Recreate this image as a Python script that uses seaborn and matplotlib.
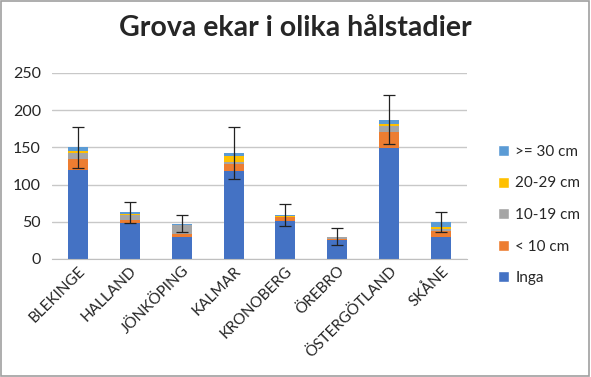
import numpy as np
import pandas as pd
import matplotlib.pyplot as plt
import seaborn as sns
from matplotlib.patches import Rectangle, Patch

# Data
lan = ["BLEKINGE", "HALLAND", "JÖNKÖPING", "KALMAR", "KRONOBERG", "ÖREBRO", "ÖSTERGÖTLAND", "SKÅNE"]
inga = [120, 49, 29.5, 118, 51, 25, 149, 29.5]
under10 = [15, 4, 4, 10, 5, 2.5, 22, 8]
d10_19 = [7, 6, 12, 3, 1, 1.5, 8, 3]
d20_29 = [3, 2, 0.5, 7, 1, 0.5, 2, 2]
over30 = [5, 2, 1.5, 4, 1, 0.5, 6, 7.5]
fel = [28, 14, 11, 35, 15, 11.5, 33, 13.5]

serier = ["Inga", "< 10 cm", "10-19 cm", "20-29 cm", ">= 30 cm"]
farger = ["#4472C4", "#ED7D31", "#A5A5A5", "#FFC000", "#5B9BD5"]

df = pd.DataFrame({"Län": lan, "Inga": inga, "< 10 cm": under10, "10-19 cm": d10_19,
                   "20-29 cm": d20_29, ">= 30 cm": over30})
kum = df[serier].cumsum(axis=1)
kum["Län"] = lan

sns.set_style("white")
plt.rcParams["font.family"] = ["Lato", "DejaVu Sans"]

fig = plt.figure(figsize=(5.91, 3.77), dpi=100)
ax = fig.add_axes([52 / 591, 1 - 259 / 377, (467 - 52) / 591, (259 - 73) / 377])

# stacked bars: draw the tallest cumulative level first
for s, c in reversed(list(zip(serier, farger))):
    sns.barplot(data=kum, x="Län", y=s, color=c, width=0.385, ax=ax,
                saturation=1, edgecolor="none")

ax.errorbar(np.arange(len(lan)), kum[">= 30 cm"], yerr=fel, fmt="none",
            ecolor="#222222", elinewidth=0.9, capsize=4, capthick=0.9)

ax.set_ylim(0, 250)
ax.set_yticks(range(0, 251, 50))
ax.set_xlim(-0.5, len(lan) - 0.5)
ax.yaxis.grid(True, color="#c8c8c8", linewidth=1)
ax.set_axisbelow(True)
for side in ["top", "right", "left"]:
    ax.spines[side].set_visible(False)
ax.spines["bottom"].set_color("#bfbfbf")
ax.set_xlabel("")
ax.set_ylabel("")
ax.tick_params(axis="y", length=0, labelsize=11.5, pad=8)
ax.set_xticks(np.arange(len(lan) + 1) - 0.5, minor=True)
ax.tick_params(axis="x", which="minor", length=4, color="#bfbfbf")
ax.tick_params(axis="x", which="major", length=0, labelsize=11)
plt.setp(ax.get_xticklabels(), rotation=45, ha="right", rotation_mode="anchor")

fig.suptitle("Grova ekar i olika hålstadier", x=0.5, y=0.96, fontsize=20.5, fontweight="bold")

handles = [Patch(facecolor=c, label=s) for s, c in zip(serier, farger)][::-1]
fig.legend(handles=handles, loc="center left", bbox_to_anchor=(484 / 591, 1 - 215 / 377),
           frameon=False, fontsize=11, handlelength=0.75, handleheight=0.75,
           labelspacing=1.15, handletextpad=0.4)

fig.add_artist(Rectangle((0.002, 0.003), 0.995, 0.994, transform=fig.transFigure,
                         fill=False, edgecolor="#a0a0a0", linewidth=1.2))

fig.savefig("out.png", dpi=100)
